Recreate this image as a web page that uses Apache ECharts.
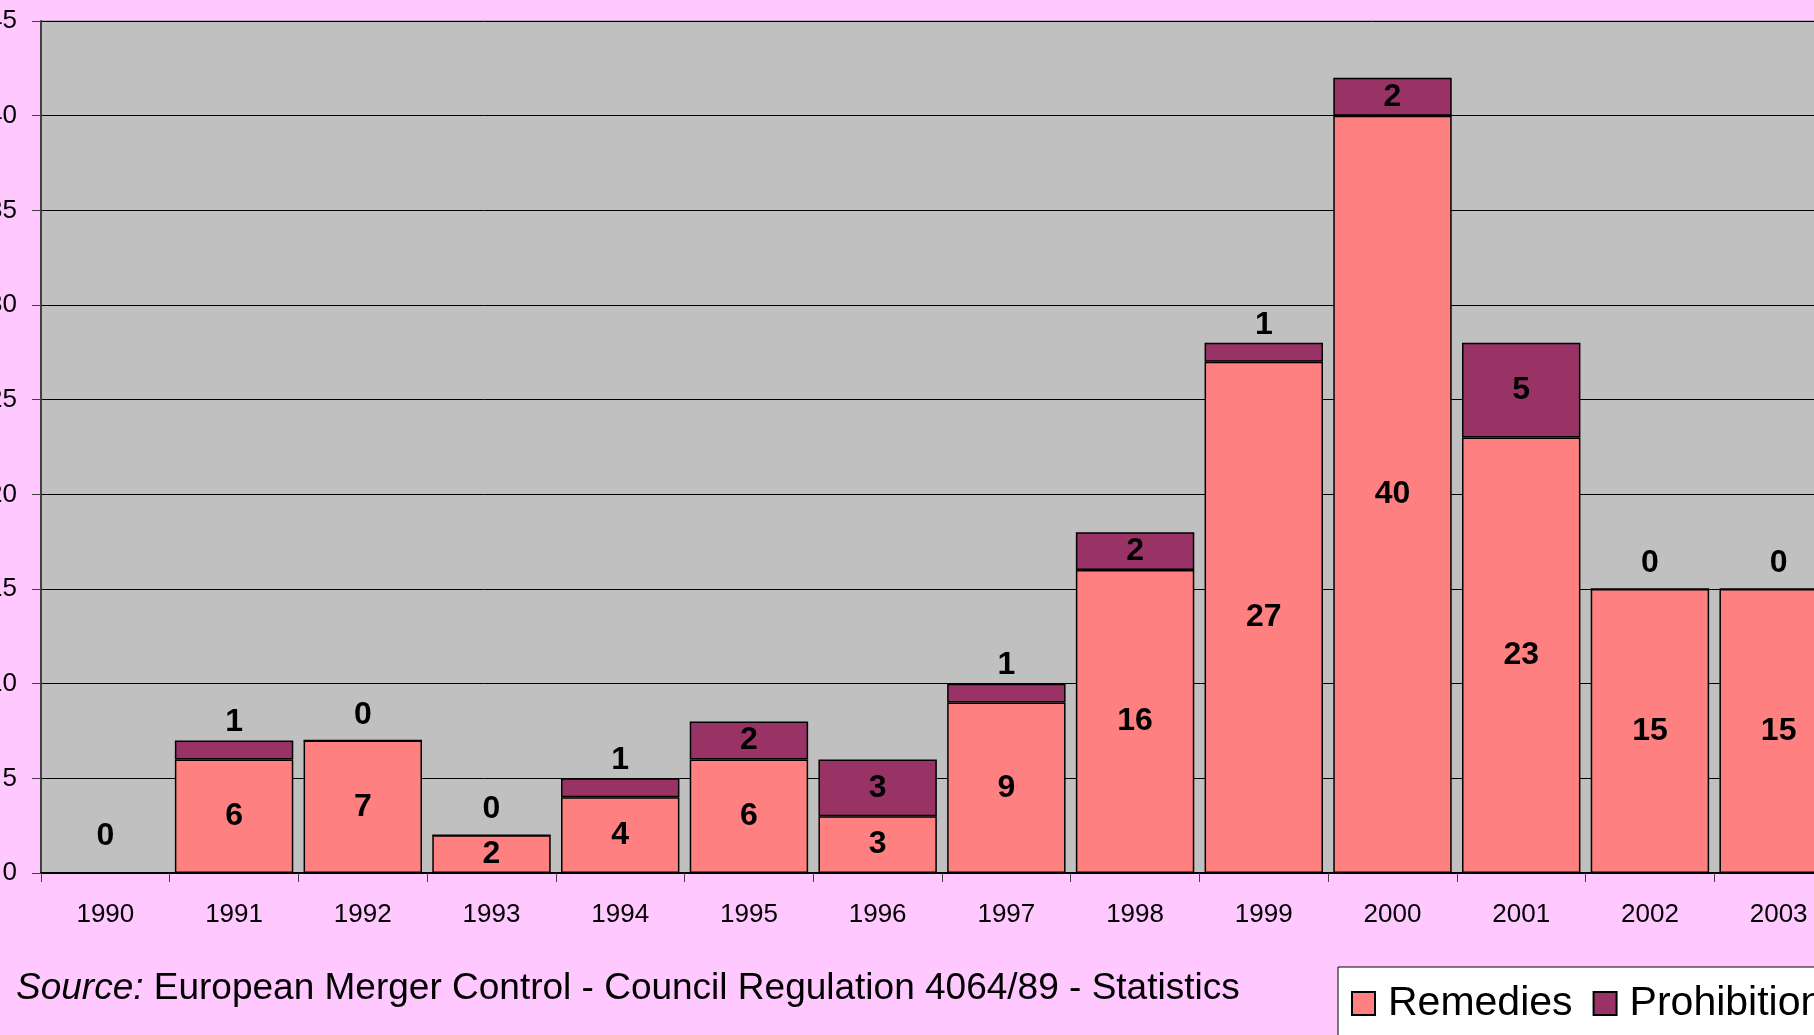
<!DOCTYPE html>
<html>
<head>
<meta charset="utf-8">
<title>Remedies and Prohibitions</title>
<script src="https://cdn.jsdelivr.net/npm/echarts@6/dist/echarts.min.js"></script>
<style>
  html, body { margin: 0; padding: 0; background: #FFC8FF; }
  #chart { width: 1814px; height: 1035px; }
</style>
</head>
<body>
<div id="chart"></div>
<script>
// data
var years = ['1990', '1991', '1992', '1993', '1994', '1995', '1996', '1997', '1998', '1999', '2000', '2001', '2002', '2003'];
var remedies = [0, 6, 7, 2, 4, 6, 3, 9, 16, 27, 40, 23, 15, 15];
var prohibitions = [0, 1, 0, 0, 1, 2, 3, 1, 2, 1, 2, 5, 0, 0];
var yTicks = [0, 5, 10, 15, 20, 25, 30, 35, 40, 45];

var labelFont = { fontFamily: 'Liberation Sans, Arial, sans-serif', fontWeight: 'bold', fontSize: 32, color: '#000' };

// remedies label inside, hidden when zero
var remData = remedies.map(function (v) {
    return { value: v, label: { show: v > 0 } };
});
// prohibition label: inside when tall enough, else on top
var proData = prohibitions.map(function (v, i) {
    if (v >= 2) {
        return { value: v, label: { position: 'inside' } };
    }
    var d = v === 1 ? 2 : 9;
    if (i === 0) d = 20;
    return { value: v, label: { position: 'top', distance: d } };
});

var myChart = echarts.init(document.getElementById('chart'));
var option = {
    backgroundColor: '#FFC8FF',
    animation: false,
    grid: {
        left: 41, top: 21, bottom: 162, right: -29,
        outerBoundsMode: 'none',
        containLabel: false,
        show: true,
        backgroundColor: '#C0C0C0',
        borderColor: '#808080',
        borderWidth: 1
    },
    legend: {
        left: 1338, top: 967,
        width: 900,
        padding: [16, 40, 40, 13],
        backgroundColor: '#FFFFFF',
        borderColor: '#000000',
        borderWidth: 1,
        itemWidth: 23, itemHeight: 23,
        itemGap: 20,
        icon: 'rect',
        textStyle: { fontFamily: 'Liberation Sans, Arial, sans-serif', fontSize: 41, color: '#000', padding: [0, 0, 0, 8] },
        data: ['Remedies', 'Prohibitions']
    },
    xAxis: {
        type: 'category',
        data: years,
        axisLine: { lineStyle: { color: '#000', width: 2 } },
        axisTick: { show: true, length: 9, lineStyle: { color: '#404040', width: 1 } },
        axisLabel: { margin: 29, fontFamily: 'Liberation Sans, Arial, sans-serif', fontSize: 26, color: '#000' },
        splitLine: { show: false }
    },
    yAxis: {
        type: 'value',
        min: yTicks[0], max: yTicks[yTicks.length - 1], interval: 5,
        axisLine: { show: true, lineStyle: { color: '#404040', width: 2 } },
        axisTick: { show: true, length: 9, lineStyle: { color: '#404040', width: 1 } },
        axisLabel: { margin: 24, fontFamily: 'Liberation Sans, Arial, sans-serif', fontSize: 26, color: '#000' },
        splitLine: { lineStyle: { color: '#000', width: 1 } }
    },
    series: [
        {
            name: 'Remedies',
            type: 'bar',
            stack: 'total',
            barCategoryGap: '8%',
            data: remData,
            itemStyle: { color: '#FF8080', borderColor: '#000', borderWidth: 1.5 },
            label: Object.assign({ show: true, position: 'inside' }, labelFont)
        },
        {
            name: 'Prohibitions',
            type: 'bar',
            stack: 'total',
            barCategoryGap: '8%',
            data: proData,
            itemStyle: { color: '#993366', borderColor: '#000', borderWidth: 1.5 },
            label: Object.assign({ show: true }, labelFont)
        }
    ],
    graphic: [
        {
            type: 'text',
            left: 16, top: 970,
            style: {
                text: '{i|Source:} European Merger Control - Council Regulation 4064/89 - Statistics',
                fontFamily: 'Liberation Sans, Arial, sans-serif',
                fontSize: 37,
                fill: '#000',
                rich: {
                    i: { fontStyle: 'italic', fontSize: 37, fontFamily: 'Liberation Sans, Arial, sans-serif' }
                }
            }
        }
    ]
};
myChart.setOption(option);
</script>
</body>
</html>
